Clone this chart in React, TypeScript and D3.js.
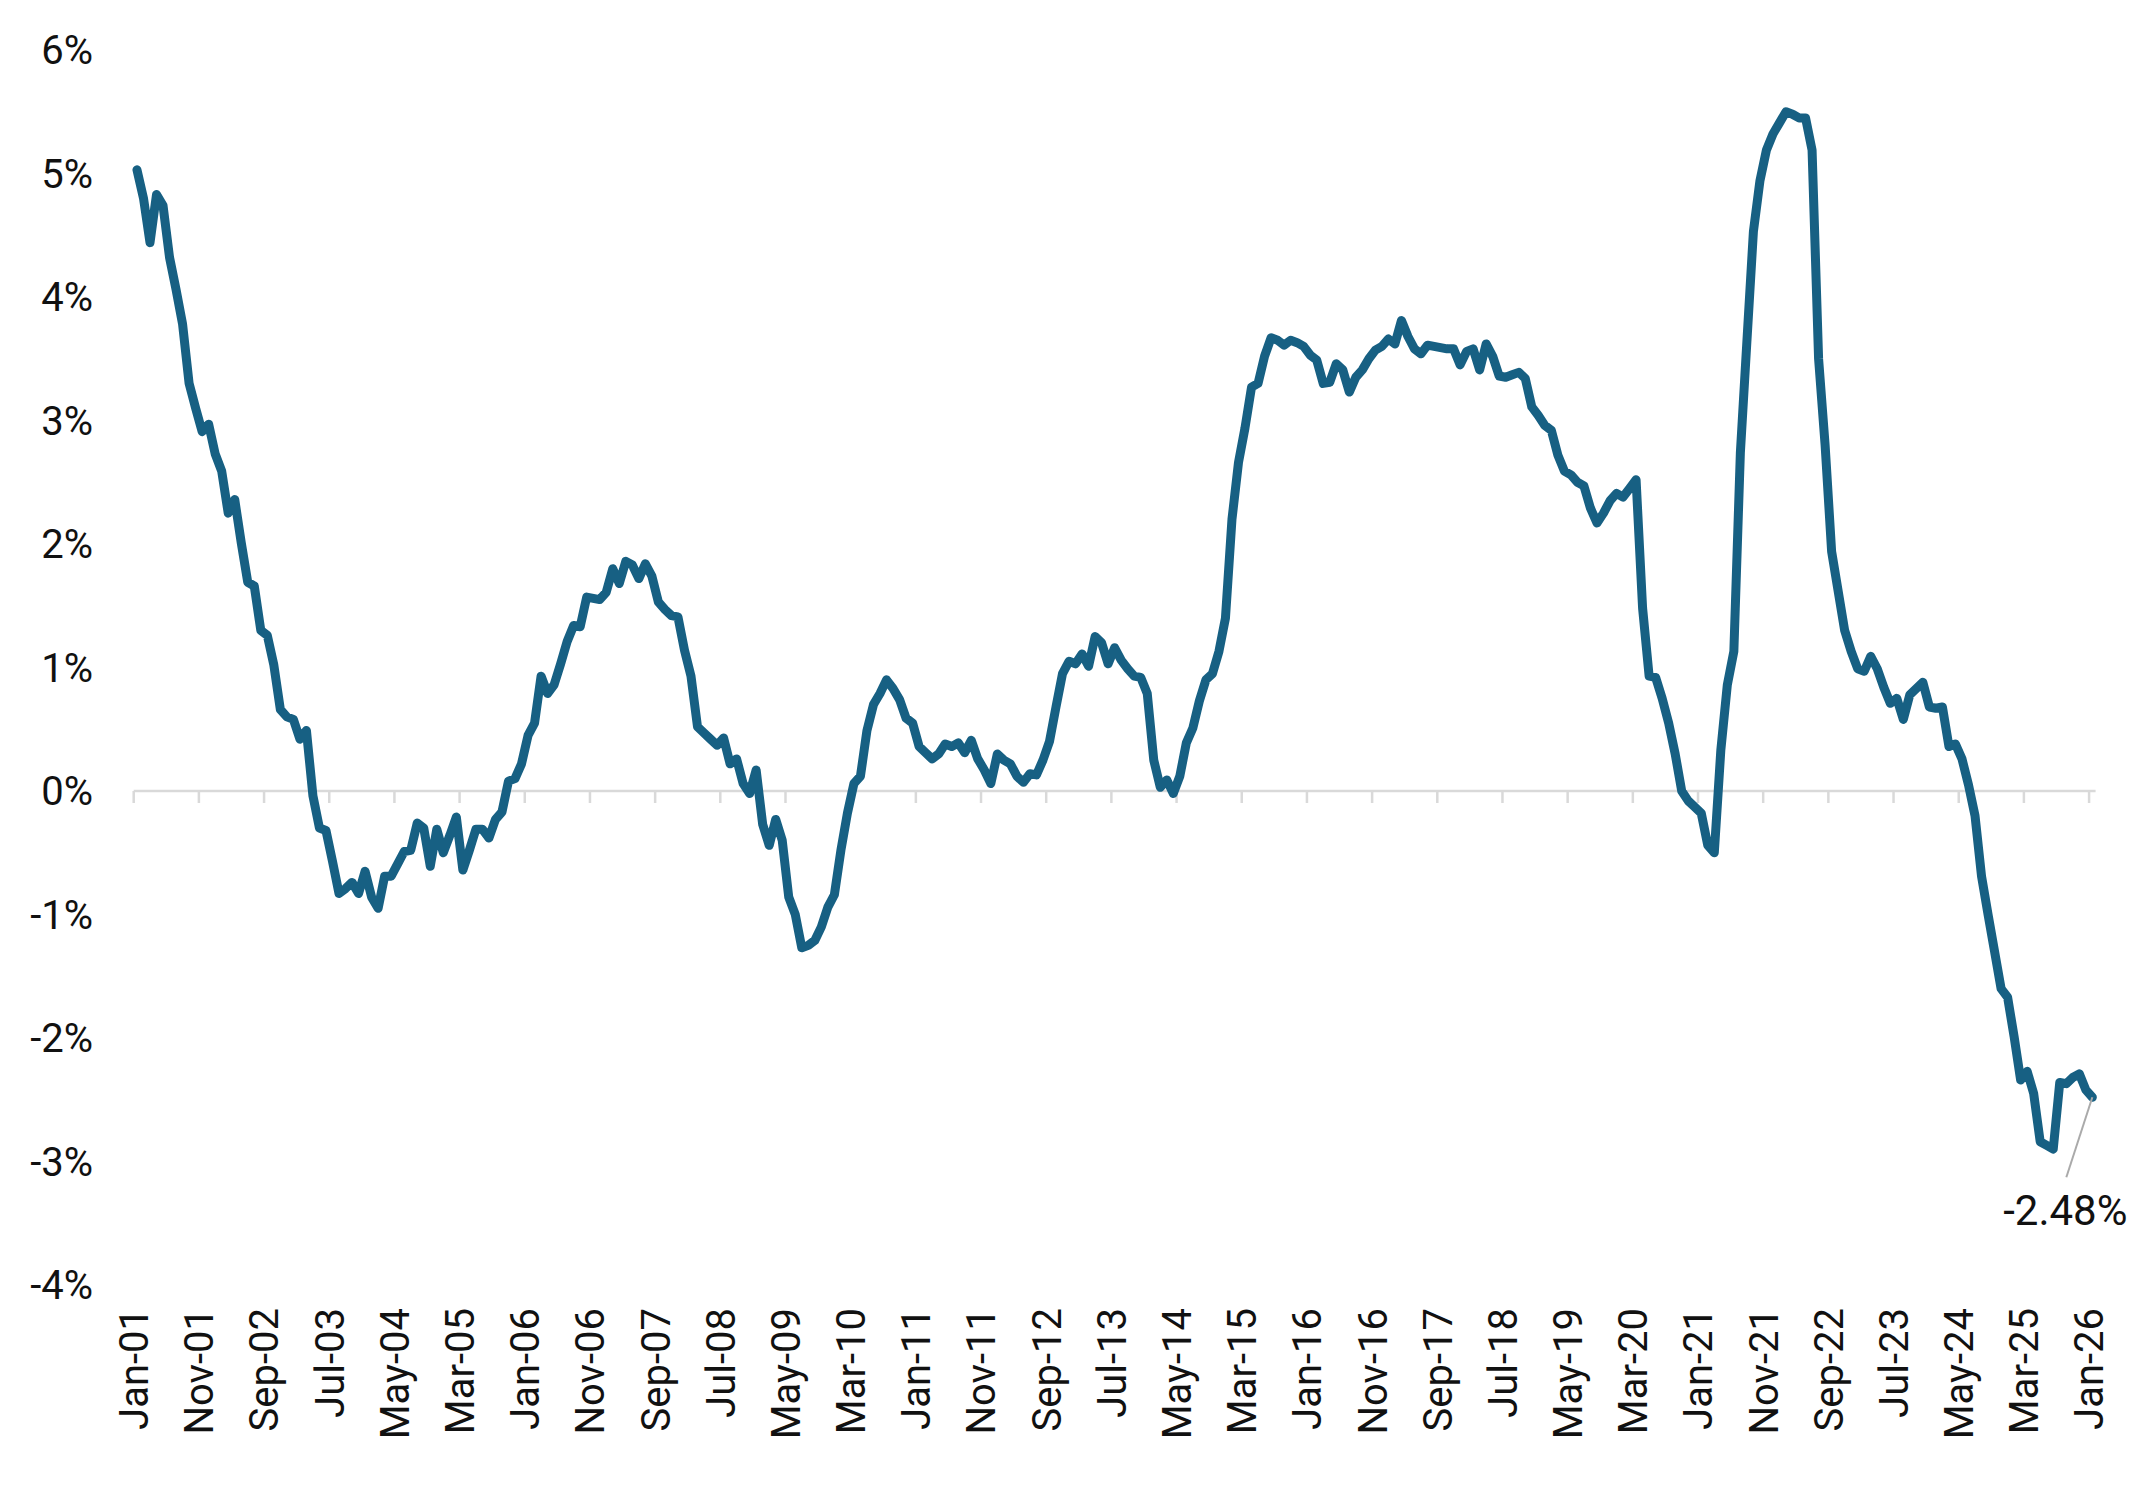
import React, { useRef, useEffect } from 'react';
import * as d3 from 'd3';

// Monthly categories, Jan-01 through Jan-26
const months: string[] = d3
    .timeMonth.range(new Date(2001, 0, 1), new Date(2026, 1, 1))
    .map(d3.timeFormat('%b-%y'));

// Year-over-year change, % (one value per month)
const values: number[] = [
    5.03, 4.80, 4.44, 4.83, 4.74, 4.32, 4.06, 3.78, 3.30, 3.10,
    2.91, 2.97, 2.73, 2.59, 2.25, 2.36, 2.01, 1.69, 1.66, 1.30,
    1.26, 1.02, 0.66, 0.60, 0.58, 0.42, 0.49, -0.04, -0.30, -0.32,
    -0.57, -0.83, -0.79, -0.74, -0.83, -0.65, -0.86, -0.95, -0.69, -0.69,
    -0.59, -0.49, -0.48, -0.26, -0.30, -0.61, -0.31, -0.50, -0.36, -0.21,
    -0.64, -0.48, -0.31, -0.31, -0.38, -0.23, -0.17, 0.08, 0.10, 0.22,
    0.45, 0.55, 0.93, 0.79, 0.86, 1.03, 1.21, 1.34, 1.33, 1.57,
    1.56, 1.55, 1.61, 1.80, 1.68, 1.86, 1.83, 1.72, 1.84, 1.74,
    1.53, 1.47, 1.42, 1.41, 1.14, 0.93, 0.52, 0.47, 0.42, 0.37,
    0.43, 0.22, 0.26, 0.06, -0.02, 0.17, -0.27, -0.44, -0.23, -0.40,
    -0.86, -1.00, -1.27, -1.25, -1.21, -1.10, -0.94, -0.84, -0.48, -0.18,
    0.06, 0.12, 0.49, 0.70, 0.79, 0.90, 0.83, 0.74, 0.59, 0.55,
    0.36, 0.31, 0.26, 0.30, 0.38, 0.36, 0.39, 0.31, 0.41, 0.26,
    0.17, 0.06, 0.30, 0.25, 0.22, 0.12, 0.07, 0.14, 0.13, 0.25,
    0.40, 0.68, 0.95, 1.05, 1.03, 1.11, 1.01, 1.25, 1.20, 1.03,
    1.16, 1.06, 0.99, 0.93, 0.92, 0.79, 0.25, 0.03, 0.09, -0.02,
    0.12, 0.39, 0.51, 0.73, 0.90, 0.95, 1.13, 1.40, 2.20, 2.66,
    2.94, 3.27, 3.30, 3.52, 3.67, 3.65, 3.61, 3.65, 3.63, 3.60,
    3.53, 3.49, 3.30, 3.31, 3.46, 3.41, 3.23, 3.35, 3.41, 3.50,
    3.57, 3.60, 3.66, 3.62, 3.81, 3.68, 3.58, 3.54, 3.61, 3.60,
    3.59, 3.58, 3.58, 3.45, 3.56, 3.58, 3.41, 3.62, 3.52, 3.36,
    3.35, 3.37, 3.39, 3.34, 3.11, 3.04, 2.96, 2.92, 2.72, 2.59,
    2.56, 2.50, 2.47, 2.29, 2.17, 2.25, 2.35, 2.41, 2.38, 2.45,
    2.52, 1.48, 0.93, 0.92, 0.75, 0.55, 0.30, 0.00, -0.08, -0.13,
    -0.18, -0.44, -0.50, 0.33, 0.86, 1.13, 2.74, 3.64, 4.53, 4.94,
    5.19, 5.32, 5.41, 5.50, 5.48, 5.45, 5.45, 5.19, 3.50, 2.80,
    1.94, 1.62, 1.30, 1.13, 0.99, 0.97, 1.09, 0.99, 0.84, 0.71,
    0.75, 0.58, 0.78, 0.83, 0.88, 0.68, 0.67, 0.68, 0.36, 0.38,
    0.26, 0.05, -0.20, -0.69, -1.00, -1.30, -1.60, -1.67, -1.99, -2.34,
    -2.27, -2.45, -2.84, -2.87, -2.90, -2.36, -2.37, -2.32, -2.29, -2.42,
    -2.48
];

// Labelled ticks, every tenth month
const xTickLabels: string[] = [
    'Jan-01', 'Nov-01', 'Sep-02', 'Jul-03', 'May-04', 'Mar-05', 'Jan-06', 'Nov-06',
    'Sep-07', 'Jul-08', 'May-09', 'Mar-10', 'Jan-11', 'Nov-11', 'Sep-12', 'Jul-13',
    'May-14', 'Mar-15', 'Jan-16', 'Nov-16', 'Sep-17', 'Jul-18', 'May-19', 'Mar-20',
    'Jan-21', 'Nov-21', 'Sep-22', 'Jul-23', 'May-24', 'Mar-25', 'Jan-26'
];

const yTicks: number[] = [-4, -3, -2, -1, 0, 1, 2, 3, 4, 5, 6];

const WIDTH = 2154;
const HEIGHT = 1485;
const LINE_COLOR = '#176083';
const FONT = 'Roboto, "Open Sans", sans-serif';

const App = () => {
    const svgRef = useRef<SVGSVGElement | null>(null);

    useEffect(() => {
        if (!svgRef.current) return;
        const svg = d3.select(svgRef.current);
        svg.selectAll('*').remove();

        // One band per month; ticks sit on the band edge, points in the middle
        const x = d3.scaleBand<string>()
            .domain(months)
            .range([133.7, 2095.6]);
        const bw = x.bandwidth();
        const cx = (i: number) => (x(months[i]) as number) + bw / 2;

        const y = d3.scaleLinear()
            .domain([-4, 6])
            .range([1285, 50]);

        // Zero line with ticks hanging below it
        svg.append('line')
            .attr('x1', x.range()[0])
            .attr('x2', x.range()[1])
            .attr('y1', y(0))
            .attr('y2', y(0))
            .attr('stroke', '#d9d9d9')
            .attr('stroke-width', 2.5);

        svg.append('g')
            .selectAll('line')
            .data(xTickLabels)
            .join('line')
            .attr('x1', d => x(d) as number)
            .attr('x2', d => x(d) as number)
            .attr('y1', y(0))
            .attr('y2', y(0) + 12)
            .attr('stroke', '#d9d9d9')
            .attr('stroke-width', 2.5);

        // Y axis labels
        svg.append('g')
            .selectAll('text')
            .data(yTicks)
            .join('text')
            .attr('x', 93)
            .attr('y', d => y(d))
            .attr('dy', '0.36em')
            .attr('text-anchor', 'end')
            .attr('font-family', FONT)
            .attr('font-size', 40)
            .attr('fill', '#111')
            .text(d => `${d}%`);

        // X axis labels, rotated
        svg.append('g')
            .selectAll('text')
            .data(xTickLabels)
            .join('text')
            .attr('transform', d => `translate(${x(d)},1308) rotate(-90)`)
            .attr('dy', '0.36em')
            .attr('text-anchor', 'end')
            .attr('font-family', FONT)
            .attr('font-size', 40)
            .attr('fill', '#111')
            .text(d => d);

        // The series
        const line = d3.line<number>()
            .x((d, i) => cx(i))
            .y(d => y(d));

        svg.append('path')
            .datum(values)
            .attr('fill', 'none')
            .attr('stroke', LINE_COLOR)
            .attr('stroke-width', 9)
            .attr('stroke-linejoin', 'round')
            .attr('stroke-linecap', 'round')
            .attr('d', line);

        // Callout for the latest reading
        const last = values.length - 1;
        const lx = cx(last);
        const ly = y(values[last]);

        svg.append('line')
            .attr('x1', lx)
            .attr('y1', ly)
            .attr('x2', lx - 26)
            .attr('y2', ly + 80)
            .attr('stroke', '#aaaaaa')
            .attr('stroke-width', 2);

        svg.append('text')
            .attr('x', lx - 27)
            .attr('y', ly + 128)
            .attr('text-anchor', 'middle')
            .attr('font-family', FONT)
            .attr('font-size', 42)
            .attr('fill', '#111')
            .text(`${values[last].toFixed(2)}%`);
    }, []);

    return (
        <div style={{ position: 'absolute', left: 0, top: 0, background: '#fff' }}>
            <svg ref={svgRef} width={WIDTH} height={HEIGHT} />
        </div>
    );
};

export default App;
